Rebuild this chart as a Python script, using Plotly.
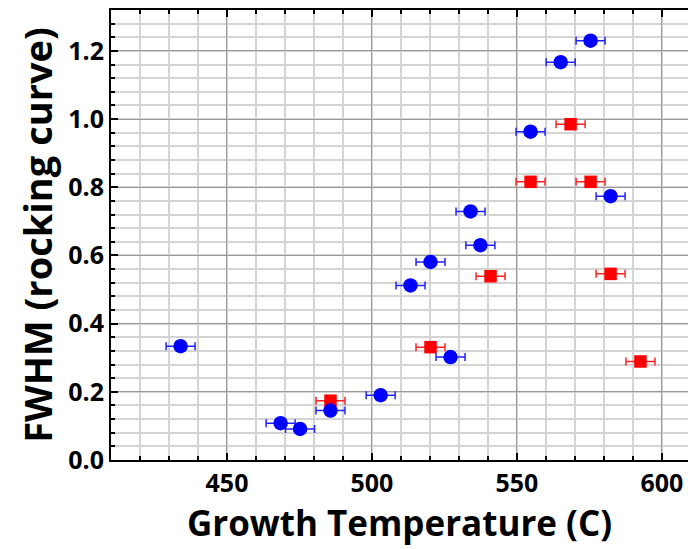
import plotly.graph_objects as go

# Blue circles series
blue_x = [434.0, 468.5, 475.2, 485.7, 503.0, 513.3, 520.2, 527.1, 534.0, 537.4, 554.7, 565.1, 575.4, 582.3]
blue_y = [0.334, 0.108, 0.091, 0.145, 0.190, 0.512, 0.581, 0.302, 0.729, 0.630, 0.963, 1.167, 1.230, 0.774]
blue_err = [5] * len(blue_x)

# Red squares series
red_x = [485.7, 520.2, 540.9, 554.7, 568.5, 575.4, 582.3, 592.6]
red_y = [0.174, 0.331, 0.539, 0.816, 0.985, 0.816, 0.546, 0.289]
red_err = [5] * len(red_x)

x_title = "Growth Temperature (C)"
y_title = "FWHM (rocking curve)"

FONT = "Open Sans"

fig = go.Figure()
fig.add_trace(go.Scatter(
    x=red_x, y=red_y, mode="markers",
    marker=dict(symbol="square", size=12.5, color="#ff0000"),
    error_x=dict(type="data", array=red_err, visible=True, color="#ff2222", thickness=1.5, width=4),
    showlegend=False,
))
fig.add_trace(go.Scatter(
    x=blue_x, y=blue_y, mode="markers",
    marker=dict(symbol="circle", size=14.5, color="#0000ff"),
    error_x=dict(type="data", array=blue_err, visible=True, color="#2222ff", thickness=1.5, width=4),
    showlegend=False,
))

fig.update_layout(
    width=688, height=549,
    margin=dict(l=111, r=0, t=10, b=89),
    paper_bgcolor="white", plot_bgcolor="white",
    font=dict(family=FONT, color="black"),
)
fig.update_xaxes(
    range=[410, 609], tickvals=[450, 500, 550, 600],
    ticks="inside", ticklen=7, tickwidth=2, tickcolor="black",
    showline=True, linecolor="black", linewidth=2, mirror="allticks",
    showgrid=True, gridcolor="#999999", gridwidth=1,
    minor=dict(dtick=10, tick0=410, ticks="inside", ticklen=4, tickwidth=1.5, tickcolor="black",
               showgrid=True, gridcolor="#d4d4d4", gridwidth=1.5),
    zeroline=False,
    tickfont=dict(family=FONT, size=25, color="black", weight="bold"),
    title=dict(text=x_title, font=dict(family=FONT, size=35, color="black", weight="bold"), standoff=4),
)
fig.update_yaxes(
    range=[0, 1.32], tickvals=[0, 0.2, 0.4, 0.6, 0.8, 1.0, 1.2], tickformat=".1f",
    ticks="inside", ticklen=7, tickwidth=2, tickcolor="black",
    showline=True, linecolor="black", linewidth=2,
    showgrid=True, gridcolor="#999999", gridwidth=1,
    minor=dict(dtick=0.04, tick0=0, ticks="inside", ticklen=4, tickwidth=1.5, tickcolor="black",
               showgrid=True, gridcolor="#d4d4d4", gridwidth=1.5),
    zeroline=False,
    tickfont=dict(family=FONT, size=25, color="black", weight="bold"),
    title=dict(text=y_title, font=dict(family=FONT, size=38, color="black", weight="bold"), standoff=4),
)

fig.write_html("out.html")
